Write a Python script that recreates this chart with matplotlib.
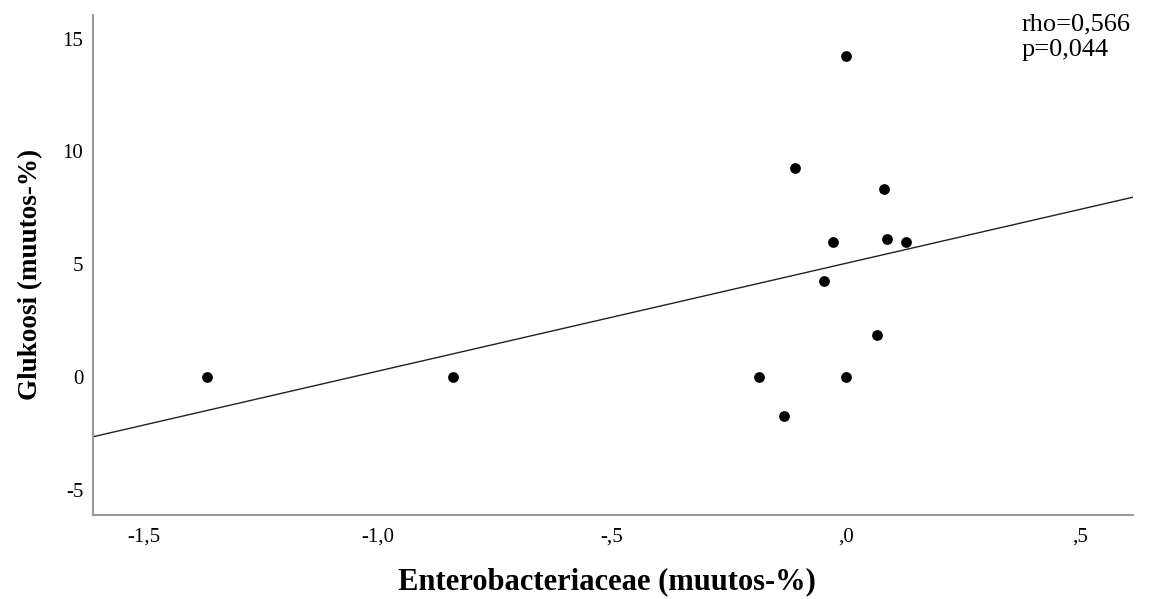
import numpy as np
import matplotlib
matplotlib.use('Agg')
import matplotlib.pyplot as plt

plt.rcParams['font.family'] = ['Liberation Serif', 'DejaVu Serif']

# change in Enterobacteriaceae vs change in glucose (%)
entero = [-1.366, -0.839, 0.000, -0.110, 0.082, -0.028, 0.088, 0.129,
          -0.048, 0.066, -0.187, 0.000, -0.132]
glukoosi = [0.0, 0.0, 14.25, 9.25, 8.32, 6.00, 6.12, 6.00,
            4.26, 1.86, 0.0, 0.0, -1.73]

x_ticks = [-1.5, -1.0, -0.5, 0.0, 0.5]
x_labels = ['-1,5', '-1,0', '-,5', ',0', ',5']
y_ticks = [-5, 0, 5, 10, 15]
y_labels = ['-5', '0', '5', '10', '15']
stats_lines = ['rho=0,566', 'p=0,044']

fig = plt.figure(figsize=(11.61, 5.99), dpi=100)
ax = fig.add_axes([0.0801, 0.1402, 0.8958, 0.8348])

ax.scatter(entero, glukoosi, s=60, color='black', zorder=3, linewidths=0)

# linear fit line over the whole x range
xlim = (-1.609, 0.613)
coef = np.polyfit(entero, glukoosi, 1)
xx = np.array(xlim)
ax.plot(xx, np.polyval(coef, xx), color='#222222', linewidth=1.0, zorder=2)

ax.set_xlim(xlim)
ax.set_ylim(-6.12, 16.05)

ax.set_xticks(x_ticks)
ax.set_xticklabels(x_labels)
ax.set_yticks(y_ticks)
ax.set_yticklabels(y_labels)
ax.tick_params(axis='both', length=0, labelsize=15)
ax.tick_params(axis='x', pad=9)
ax.tick_params(axis='y', pad=7)

for side in ['top', 'right']:
    ax.spines[side].set_visible(False)
for side in ['left', 'bottom']:
    ax.spines[side].set_color('#999999')
    ax.spines[side].set_linewidth(1.5)

ax.set_xlabel('Enterobacteriaceae (muutos-%)', fontsize=22, fontweight='bold')
ax.xaxis.set_label_coords(0.494, -0.104)
ax.set_ylabel('Glukoosi (muutos-%)', fontsize=19.5, fontweight='bold')
ax.yaxis.set_label_coords(-0.048, 0.482)

# stats in the top right corner
for i, line in enumerate(stats_lines):
    fig.text(1022 / 1161, 1 - (30 + 26 * i) / 599, line,
             fontsize=19, va='baseline', ha='left')

fig.savefig('out.png', dpi=100)
